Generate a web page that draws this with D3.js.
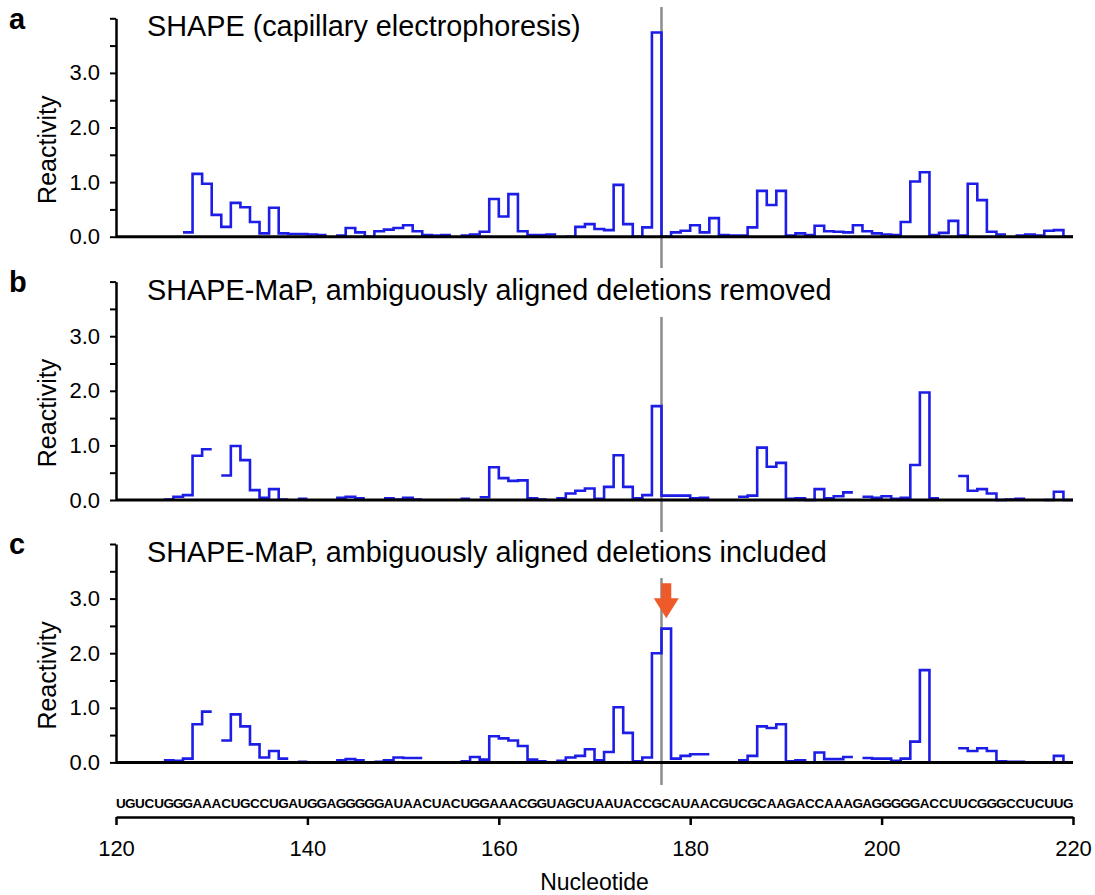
<!DOCTYPE html>
<html>
<head>
<meta charset="utf-8">
<script src="https://cdn.jsdelivr.net/npm/d3@7"></script>
<style>
body { margin: 0; background: #fff; }
svg text { font-family: "Liberation Sans", Arial, Helvetica, sans-serif; }
</style>
</head>
<body>
<svg id="chart" width="1095" height="895"></svg>
<script>
// Reactivity profiles, one value per nucleotide step, first step starts at 125
var stepStart = 125;

var shapeCE = [null, null, 0.08, 1.15, 0.97, 0.40, 0.18, 0.62, 0.54, 0.27,
  0.06, 0.53, 0.06, 0.05, 0.05, 0.04, 0.03, null, 0.02, 0.16,
  0.08, 0, 0.10, 0.13, 0.16, 0.21, 0.10, 0.03, 0.02, 0.03,
  null, 0.02, 0.04, 0.09, 0.69, 0.37, 0.78, 0.10, 0.03, 0.03,
  0.04, null, 0, 0.18, 0.23, 0.14, 0.12, 0.95, 0.23, 0,
  0.17, 3.74, 0, 0.08, 0.11, 0.21, 0.08, 0.34, 0.03, 0.02,
  0.02, 0.17, 0.84, 0.58, 0.84, 0.02, 0.06, 0.03, 0.20, 0.10,
  0.09, 0.08, 0.21, 0.10, 0.06, 0.04, 0.03, 0.27, 1.01, 1.18,
  0.03, 0.07, 0.29, 0.02, 0.97, 0.67, 0.09, 0.04, null, 0.02,
  0.04, 0.02, 0.11, 0.12, 0];

var mapRemoved = [0.01, 0.06, 0.09, 0.81, 0.93, null, 0.45, 0.99, 0.73, 0.18,
  0.04, 0.20, 0.01, null, 0.02, null, null, null, 0.04, 0.06,
  0.03, null, null, 0.03, 0.01, 0.04, 0.01, null, null, null,
  null, 0.02, null, 0.05, 0.60, 0.40, 0.35, 0.36, 0.03, 0.01,
  null, 0.03, 0.12, 0.17, 0.21, 0.02, 0.24, 0.82, 0.24, 0.03,
  0.09, 1.72, 0.08, 0.08, 0.08, 0.03, 0.04, null, null, null,
  0.06, 0.08, 0.96, 0.61, 0.68, 0.02, 0.03, 0, 0.20, 0.03,
  0.07, 0.14, null, 0.06, 0.04, 0.07, 0.02, 0.04, 0.64, 1.97,
  0.03, null, null, 0.44, 0.17, 0.20, 0.12, 0, 0.01, 0.02,
  null, null, 0, 0.15, 0];

var mapIncluded = [0.04, 0.03, 0.07, 0.70, 0.93, null, 0.40, 0.88, 0.66, 0.33,
  0.09, 0.21, 0.07, null, 0.01, null, null, null, 0.04, 0.06,
  0.04, null, 0.01, 0.04, 0.09, 0.08, 0.08, null, null, null,
  null, 0.02, 0.10, 0.05, 0.48, 0.44, 0.40, 0.30, 0.05, 0.02,
  null, 0.03, 0.09, 0.12, 0.24, 0.04, 0.19, 1.01, 0.54, 0.02,
  0.09, 2.00, 2.45, 0.07, 0.12, 0.15, 0.15, null, null, null,
  0.04, 0.12, 0.66, 0.63, 0.70, 0.02, 0.04, 0, 0.18, 0.06,
  0.06, 0.10, null, 0.08, 0.07, 0.07, 0.03, 0.07, 0.38, 1.69,
  0, null, null, 0.26, 0.21, 0.26, 0.21, 0.02, 0.01, 0.01,
  null, null, 0, 0.12, 0];

var sequence = "UGUCUGGGAAACUGCCUGAUGGAGGGGGAUAACUACUGGAAACGGUAGCUAAUACCGCAUAACGUCGCAAGACCAAAGAGGGGGACCUUCGGGCCUCUUG";
var seqFirst = 121;

var xTicks = [120, 140, 160, 180, 200, 220];
var yTicks = [0, 0.5, 1, 1.5, 2, 2.5, 3, 3.5, 4];
var panelLetters = ["a", "b", "c"];
var panelTitles = ["SHAPE (capillary electrophoresis)",
  "SHAPE-MaP, ambiguously aligned deletions removed",
  "SHAPE-MaP, ambiguously aligned deletions included"];
var markPos = 177;      // grey marker line
var arrowPos = 177.5;   // orange arrow in panel c

var series = [shapeCE, mapRemoved, mapIncluded];

var svg = d3.select("#chart");

var x = d3.scaleLinear().domain([120, 220]).range([116, 1073]);

// layout of the three panels (baseline y of 0.0)
var baselines = [236.7, 500, 762.4],
    unitPx = 54.6,
    greyTop = [7, 317, 578],
    greyBottom = [268, 532, 785];

series.forEach(function(vals, p) {
  var y0 = baselines[p];
  var y = d3.scaleLinear().domain([0, 4]).range([y0, y0 - 4 * unitPx]);
  var g = svg.append("g");

  // grey marker line
  g.append("line")
      .attr("x1", x(markPos)).attr("x2", x(markPos))
      .attr("y1", greyTop[p]).attr("y2", greyBottom[p])
      .attr("stroke", "#8c8c8c")
      .attr("stroke-width", 2.5);

  // step profile
  var pts = [];
  vals.forEach(function(v, i) {
    var s = stepStart + i;
    if (v === null) { pts.push(null); return; }
    pts.push({n: s, v: v}, {n: s + 1, v: v});
  });
  var line = d3.line()
      .defined(function(d) { return d !== null; })
      .x(function(d) { return x(d.n); })
      .y(function(d) { return y(d.v); });

  g.append("path")
      .datum(pts)
      .attr("d", line)
      .attr("fill", "none")
      .attr("stroke", "#1d1de8")
      .attr("stroke-width", 2.6)
      .attr("stroke-linejoin", "miter");

  // baseline
  g.append("line")
      .attr("x1", x(120)).attr("x2", x(220))
      .attr("y1", y(0)).attr("y2", y(0))
      .attr("stroke", "#000")
      .attr("stroke-width", 3);

  // y axis
  var ax = g.append("g")
      .attr("transform", "translate(" + x(120) + ",0)")
      .call(d3.axisLeft(y).tickValues(yTicks).tickSize(6).tickSizeOuter(0).tickPadding(10)
        .tickFormat(function(d) { return d % 1 === 0 && d < 4 ? d3.format(".1f")(d) : ""; }));
  ax.select(".domain").attr("stroke-width", 2.5);
  ax.selectAll(".tick line").attr("stroke-width", 2);
  ax.selectAll(".tick text")
      .attr("font-family", "Liberation Sans, Arial, sans-serif")
      .attr("font-size", 22)
      .attr("fill", "#000");

  g.append("text")
      .attr("transform", "translate(56," + (y0 - 87) + ") rotate(-90)")
      .attr("text-anchor", "middle")
      .attr("font-size", 25)
      .text("Reactivity");

  g.append("text")
      .attr("x", 147)
      .attr("y", y0 - 200.5)
      .attr("font-size", 28.8)
      .text(panelTitles[p]);

  g.append("text")
      .attr("x", 9)
      .attr("y", y0 - 208)
      .attr("font-size", 29)
      .attr("font-weight", "bold")
      .text(panelLetters[p]);

  if (p === 2) {
    // orange arrow pointing at the peak
    var cx = x(arrowPos), tip = y(2.64);
    var arrow = d3.path();
    arrow.moveTo(cx - 5, tip - 35);
    arrow.lineTo(cx + 5, tip - 35);
    arrow.lineTo(cx + 5, tip - 20);
    arrow.lineTo(cx + 12.5, tip - 20);
    arrow.lineTo(cx, tip);
    arrow.lineTo(cx - 12.5, tip - 20);
    arrow.lineTo(cx - 5, tip - 20);
    arrow.closePath();
    g.append("path").attr("d", arrow.toString()).attr("fill", "#ef5a2a");
  }
});

// sequence letters
svg.append("g")
  .selectAll("text")
  .data(sequence.split(""))
  .enter().append("text")
    .attr("x", function(d, i) { return x(seqFirst + i - 0.5); })
    .attr("y", 808)
    .attr("text-anchor", "middle")
    .attr("font-family", "Open Sans, sans-serif")
    .attr("font-weight", 800)
    .attr("font-size", 13.5)
    .text(function(d) { return d; });

// nucleotide axis
var xa = svg.append("g")
    .attr("transform", "translate(0,817)")
    .call(d3.axisBottom(x).tickValues(xTicks).tickSize(8).tickSizeOuter(0).tickPadding(15));
xa.select(".domain").attr("stroke-width", 2.5);
xa.selectAll(".tick line").attr("stroke-width", 2.5);
xa.selectAll(".tick text")
    .attr("font-family", "Liberation Sans, Arial, sans-serif")
    .attr("font-size", 22)
    .attr("fill", "#000");

svg.append("text")
    .attr("x", x(170))
    .attr("y", 890)
    .attr("text-anchor", "middle")
    .attr("font-size", 23)
    .text("Nucleotide");
</script>
</body>
</html>
